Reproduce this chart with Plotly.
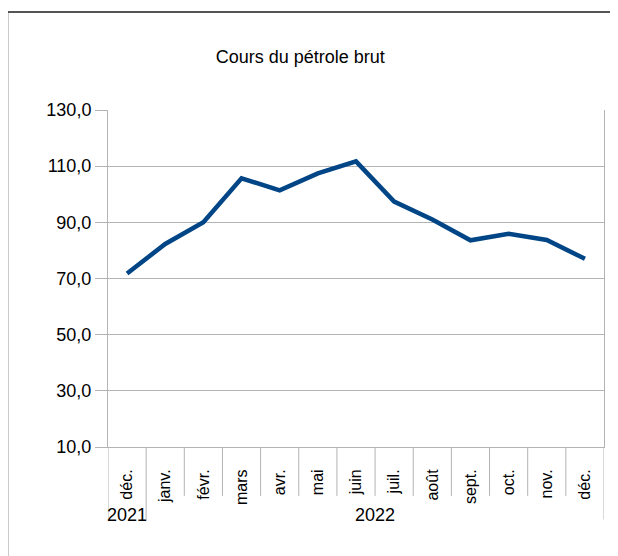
import plotly.graph_objects as go

# monthly crude oil price
months = ['déc.', 'janv.', 'févr.', 'mars', 'avr.', 'mai', 'juin',
          'juil.', 'août', 'sept.', 'oct.', 'nov.', 'déc.']
years = ['2021'] + ['2022'] * 12
prices = [71.8, 82.3, 90.0, 105.7, 101.4, 107.4, 111.7,
          97.4, 91.0, 83.6, 85.9, 83.7, 77.0]

grid = '#b3b3b3'
font = 'Liberation Sans, Arial, sans-serif'
idx = list(range(len(months)))

fig = go.Figure()
fig.add_trace(go.Scatter(
    x=idx, y=prices, mode='lines',
    line=dict(color='#004586', width=4.5),
    hovertemplate='%{text}: %{y:.1f}<extra></extra>',
    text=[f'{m} {y}' for m, y in zip(months, years)],
))

# separators under the month labels, longer where the year changes
shapes = []
for i in range(len(months) + 1):
    year_edge = i == 0 or i == len(months) or years[i] != years[i - 1]
    shapes.append(dict(type='line', xref='x', yref='paper',
                       x0=i - 0.5, x1=i - 0.5, y0=0, y1=-0.215 if year_edge else -0.145,
                       line=dict(color=grid, width=1)))

# outer frame (only the top and left edges are visible in the original)
shapes.append(dict(type='rect', xref='paper', yref='paper',
                   x0=-0.203, x1=1.1, y0=-0.5, y1=1.291,
                   line=dict(color='#555555', width=2)))

# year labels centred under their months
annotations = []
for yr in dict.fromkeys(years):
    pos = [i for i, y in zip(idx, years) if y == yr]
    annotations.append(dict(x=sum(pos) / len(pos), xref='x', y=-0.202, yref='paper',
                            text=yr, showarrow=False, yanchor='middle',
                            font=dict(size=18, color='black', family=font)))

# page body has an 8px margin, so the figure is a bit smaller than the window
fig.update_layout(
    width=610, height=548,
    margin=dict(l=100, r=14, t=102, b=109),
    paper_bgcolor='white', plot_bgcolor='white',
    separators=',.',
    showlegend=False,
    font=dict(family=font, size=18, color='black'),
    title=dict(text='Cours du pétrole brut', x=0.479, xanchor='center',
               y=0.912, yanchor='middle', font=dict(size=18, color='black')),
    shapes=shapes,
    annotations=annotations,
    xaxis=dict(range=[-0.5, len(months) - 0.5], tickvals=idx, ticktext=months,
               tickangle=-90, showgrid=False, zeroline=False,
               tickfont=dict(size=16),
               ticks='outside', ticklen=15, tickcolor='rgba(0,0,0,0)',
               showline=True, linecolor=grid, linewidth=1),
    yaxis=dict(range=[10, 130], tick0=10, dtick=20, tickformat='.1f',
               showgrid=True, gridcolor=grid, gridwidth=1, zeroline=False,
               ticks='outside', ticklen=12, tickcolor=grid,
               showline=True, linecolor=grid, linewidth=1, mirror=True),
)

fig.write_html('out.html')
